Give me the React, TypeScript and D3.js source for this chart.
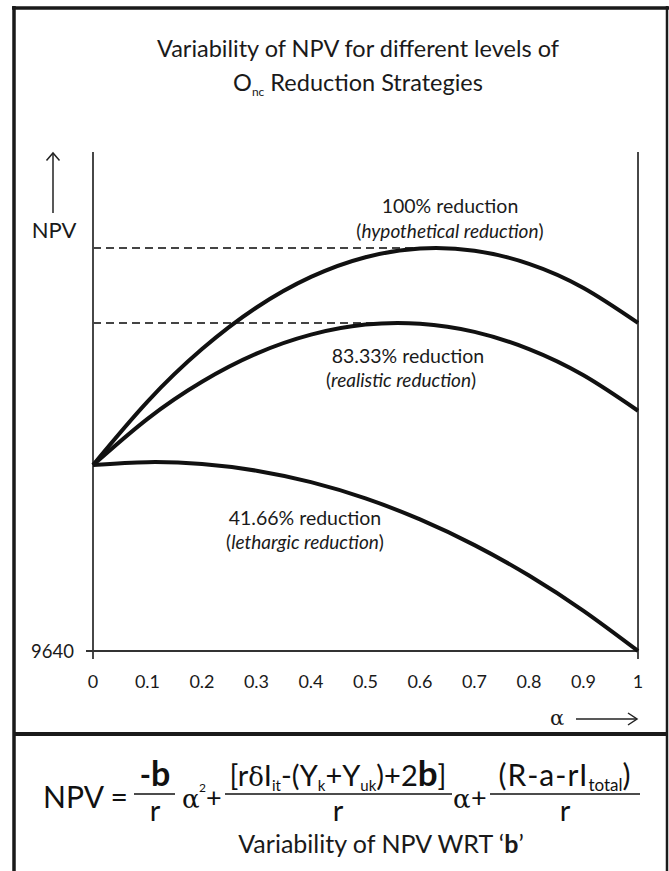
import React from "react";
import * as d3 from "d3";

const alphaValues = [0, 0.1, 0.2, 0.3, 0.4, 0.5, 0.6, 0.7, 0.8, 0.9, 1];
const alphaTickLabels = ["0", "0.1", "0.2", "0.3", "0.4", "0.5", "0.6", "0.7", "0.8", "0.9", "1"];
const npv100 = [9662.36, 9669.99, 9676.3, 9681.3, 9684.98, 9687.35, 9688.4, 9688.13, 9686.56, 9683.66, 9679.46];
const npv83 = [9662.36, 9667.92, 9672.38, 9675.76, 9678.04, 9679.25, 9679.35, 9678.37, 9676.3, 9673.15, 9668.89];
const npv41 = [9662.36, 9662.71, 9662.48, 9661.68, 9660.3, 9658.35, 9655.82, 9652.73, 9649.07, 9644.82, 9640];
const yTicks = [9640];
const peakAlpha = [0.63, 0.56];
const peakValue = [9688.46, 9679.44];

const FONT = "Lato, 'Open Sans', sans-serif";
const GREEK = "'DejaVu Serif', 'Liberation Serif', serif";
const INK = "#1a1a1a";

export default function App() {
  const x = d3.scaleLinear().domain([0, 1]).range([93, 638]);
  const y = d3.scaleLinear().domain([9640, 9700]).range([651, 152]);
  const line = d3
    .line<number>()
    .x((_, i) => x(alphaValues[i]))
    .y((d) => y(d))
    .curve(d3.curveNatural);

  const x0 = x(0);
  const x1 = x(1);
  const yb = y(yTicks[0]);
  const yTop = y(9700);

  const series = [npv100, npv83, npv41];

  return (
    <svg
      width={669}
      height={871}
      style={{ position: "absolute", left: 0, top: 0, background: "#fff" }}
      fontFamily={FONT}
    >
      <rect x={0} y={0} width={669} height={871} fill="#fff" />
      {/* outer frame */}
      <line x1={14} y1={6} x2={14} y2={871} stroke="#1a1a1a" strokeWidth={3.5} />
      <line x1={12} y1={8} x2={669} y2={8} stroke="#1a1a1a" strokeWidth={3.5} />
      <line x1={667} y1={6} x2={667} y2={871} stroke="#1a1a1a" strokeWidth={2.5} />
      <line x1={14} y1={734} x2={667} y2={734} stroke="#1a1a1a" strokeWidth={4} />

      {/* title */}
      <text x={358} y={57} textAnchor="middle" fontSize={23.5} fill={INK}>
        Variability of NPV for different levels of
      </text>
      <text x={358} y={91} textAnchor="middle" fontSize={23.5} fill={INK}>
        O<tspan fontSize={12} dy={5}>nc</tspan>
        <tspan dy={-5}> Reduction Strategies</tspan>
      </text>

      {/* axes */}
      <line x1={x0} y1={yTop} x2={x0} y2={yb + 8} stroke="#333" strokeWidth={1.8} />
      <line x1={x1} y1={yTop} x2={x1} y2={yb + 8} stroke="#333" strokeWidth={1.8} />
      <line x1={x0 - 7} y1={yb} x2={x1} y2={yb} stroke="#333" strokeWidth={1.8} />
      {yTicks.map((t) => (
        <text key={t} x={x0 - 19} y={y(t) + 6.5} textAnchor="end" fontSize={18.5} fill={INK}>
          {t}
        </text>
      ))}
      {alphaValues.map((a, i) => (
        <text key={a} x={x(a)} y={688} textAnchor="middle" fontSize={18} fill={INK}>
          {alphaTickLabels[i]}
        </text>
      ))}

      {/* axis arrows & labels */}
      <line x1={53} y1={153} x2={53} y2={213} stroke="#222" strokeWidth={1.5} />
      <path d="M46.5,160.5 L53,153 L59.5,160.5" fill="none" stroke="#222" strokeWidth={1.5} />
      <text x={54} y={238} textAnchor="middle" fontSize={22} fill={INK}>
        NPV
      </text>
      <text x={557} y={725} textAnchor="middle" fontSize={21} fill={INK} fontFamily={GREEK}>
        α
      </text>
      <line x1={576} y1={719} x2={637} y2={719} stroke="#222" strokeWidth={1.5} />
      <path d="M628,713 L637,719 L628,725" fill="none" stroke="#222" strokeWidth={1.5} />

      {/* dashed peak lines */}
      {peakAlpha.map((a, i) => (
        <line
          key={i}
          x1={x0}
          y1={y(peakValue[i])}
          x2={x(a)}
          y2={y(peakValue[i])}
          stroke="#444"
          strokeWidth={2}
          strokeDasharray="8,5"
        />
      ))}

      {/* curves */}
      {series.map((s, i) => (
        <path key={i} d={line(s) || ""} fill="none" stroke="#111" strokeWidth={4} />
      ))}

      {/* curve labels */}
      <text x={450} y={213} textAnchor="middle" fontSize={19.5} fill={INK}>
        100% reduction
      </text>
      <text x={450} y={238} textAnchor="middle" fontSize={19} fill={INK}>
        (<tspan fontStyle="italic">hypothetical reduction</tspan>)
      </text>
      <text x={408} y={363} textAnchor="middle" fontSize={19.5} fill={INK}>
        83.33% reduction
      </text>
      <text x={401} y={387} textAnchor="middle" fontSize={19} fill={INK}>
        (<tspan fontStyle="italic">realistic reduction</tspan>)
      </text>
      <text x={305} y={525} textAnchor="middle" fontSize={19.5} fill={INK}>
        41.66% reduction
      </text>
      <text x={305} y={549} textAnchor="middle" fontSize={19} fill={INK}>
        (<tspan fontStyle="italic">lethargic reduction</tspan>)
      </text>

      {/* formula */}
      <g fill="#111">
        <text x={43} y={808} fontSize={30}>NPV =</text>
        {/* fraction 1 */}
        <text x={155} y={786} textAnchor="middle" fontSize={34}>
          <tspan fontSize={30} fontWeight="bold">-</tspan>
          <tspan fontWeight="bold">b</tspan>
        </text>
        <line x1={134} y1={794} x2={175} y2={794} stroke="#111" strokeWidth={1.5} />
        <text x={155} y={821} textAnchor="middle" fontSize={29}>r</text>
        <text x={182} y={808} fontSize={26} fontFamily={GREEK}>α</text>
        <text x={199} y={792} fontSize={12}>2</text>
        <text x={206} y={807} fontSize={27}>+</text>
        {/* fraction 2 */}
        <text x={338} y={786} textAnchor="middle" fontSize={29}>
          [r<tspan fontFamily={GREEK} fontSize={26}>δ</tspan>I
          <tspan fontSize={15} dy={5}>it</tspan>
          <tspan dy={-5}>-(Y</tspan>
          <tspan fontSize={15} dy={5}>k</tspan>
          <tspan dy={-5}>+Y</tspan>
          <tspan fontSize={15} dy={5}>uk</tspan>
          <tspan dy={-5}>)+2</tspan>
          <tspan fontWeight="bold" fontSize={35}>b</tspan>
          <tspan>]</tspan>
        </text>
        <line x1={225} y1={794} x2={452} y2={794} stroke="#111" strokeWidth={1.5} />
        <text x={338} y={821} textAnchor="middle" fontSize={29}>r</text>
        <text x={453} y={808} fontSize={26} fontFamily={GREEK}>α</text>
        <text x={471} y={807} fontSize={27}>+</text>
        {/* fraction 3 */}
        <text x={565} y={786} textAnchor="middle" fontSize={30} letterSpacing={1}>
          (R-a-rI
          <tspan fontSize={17} dy={5} letterSpacing={0}>total</tspan>
          <tspan dy={-5}>)</tspan>
        </text>
        <line x1={490} y1={794} x2={640} y2={794} stroke="#111" strokeWidth={1.5} />
        <text x={565} y={821} textAnchor="middle" fontSize={29}>r</text>
        <text x={381} y={853} textAnchor="middle" fontSize={25} fill={INK}>
          Variability of NPV WRT ‘<tspan fontWeight="bold">b</tspan>’
        </text>
      </g>
    </svg>
  );
}
